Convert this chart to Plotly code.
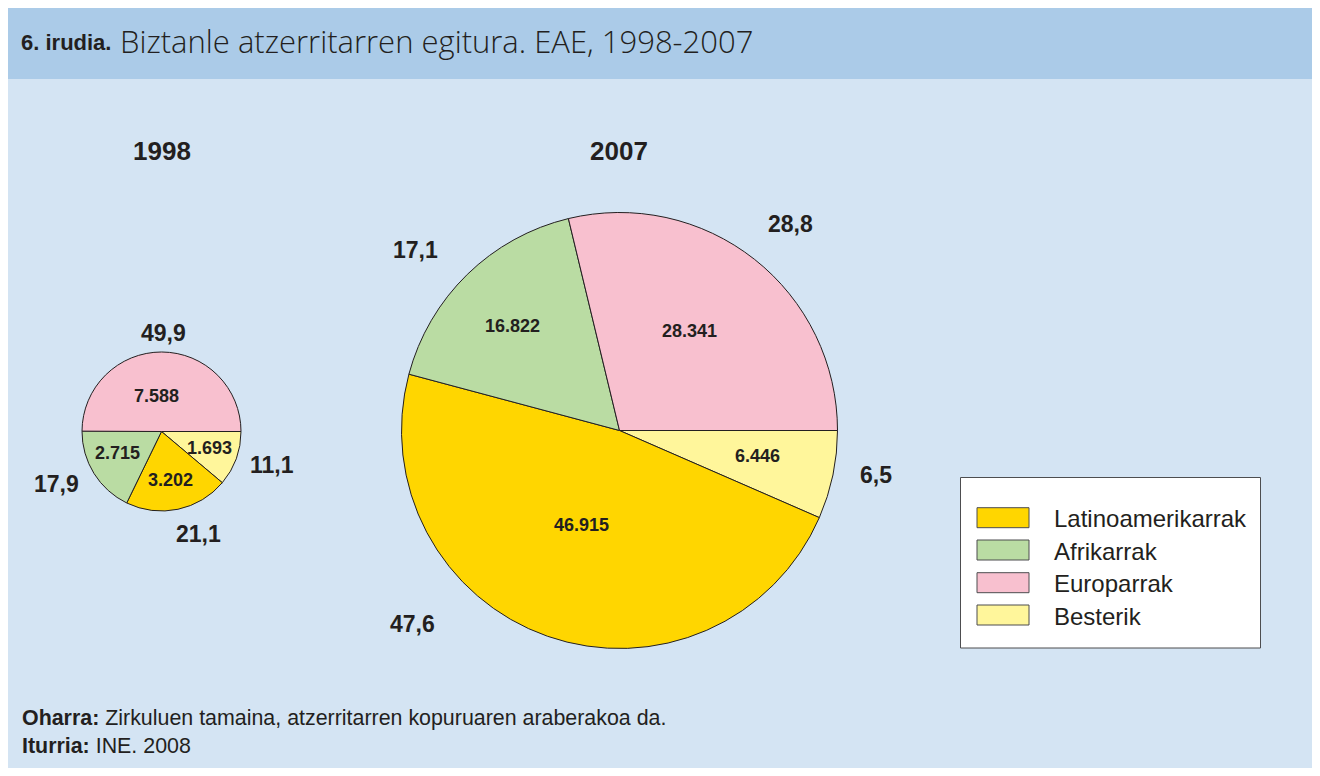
import plotly.graph_objects as go

# ---------------- data ----------------
categories = ["Latinoamerikarrak", "Afrikarrak", "Europarrak", "Besterik"]
values_1998 = [3202, 2715, 7588, 1693]
values_2007 = [46915, 16822, 28341, 6446]
pct_1998 = ["21,1", "17,9", "49,9", "11,1"]
pct_2007 = ["47,6", "17,1", "28,8", "6,5"]
years = ["1998", "2007"]

# ---------------- styles / layout ----------------
# the page body has an 8px margin, so the figure is sized to fit the viewport
OFF = 8
W, H = 1320 - 2 * OFF, 776 - 2 * OFF
colors = ["#ffd600", "#badca3", "#f8c0cf", "#fff69b"]
slice_order = [3, 0, 1, 2]  # clockwise from 3 o'clock: Other, Latin America, Africa, Europe
TXT = "#231f20"
BODY = "#d4e4f3"
HEAD = "#abcbe8"

# pie geometry in reference pixels: (cx, cy, r)
pie_geom = [(161.5, 431.5, 79.5), (619.5, 430.5, 218)]
# label pixel centres (same order as categories)
inside_pos = [
    [(170, 479), (117.5, 451.7), (156.7, 394.7), (209, 446.7)],
    [(581.3, 524.2), (512.7, 324.5), (689, 330), (757.5, 454.7)],
]
outside_pos = [
    [(199, 532.7), (56.7, 482.8), (163, 332), (272, 464)],
    [(412.5, 622.8), (415.3, 248.7), (790.3, 223), (876, 474)],
]
year_pos = [(161.7, 149.5), (619, 150.5)]


def px(x):
    return (x - OFF) / W


def py(y):
    return 1 - (y - OFF) / H


def fmt(v):
    return f"{v:,}".replace(",", ".")


fig = go.Figure()
annotations = []
shapes = []

for i, vals in enumerate([values_1998, values_2007]):
    cx, cy, r = pie_geom[i]
    fig.add_trace(go.Pie(
        labels=[categories[k] for k in slice_order],
        values=[vals[k] for k in slice_order],
        marker=dict(colors=[colors[k] for k in slice_order],
                    line=dict(color=TXT, width=1)),
        sort=False,
        direction="clockwise",
        rotation=90,
        textinfo="none",
        hoverinfo="label+value+percent",
        showlegend=False,
        domain=dict(x=[px(cx - r), px(cx + r)], y=[py(cy + r), py(cy - r)]),
    ))
    pcts = [pct_1998, pct_2007][i]
    for k in range(len(categories)):
        x, y = inside_pos[i][k]
        annotations.append(dict(x=px(x), y=py(y + 1), xref="paper", yref="paper",
                                text=f"<b>{fmt(vals[k])}</b>", showarrow=False,
                                xanchor="center", yanchor="middle",
                                font=dict(family="Liberation Sans, Arial", size=18, color=TXT)))
        x, y = outside_pos[i][k]
        annotations.append(dict(x=px(x), y=py(y + 1), xref="paper", yref="paper",
                                text=f"<b>{pcts[k]}</b>", showarrow=False,
                                xanchor="center", yanchor="middle",
                                font=dict(family="Liberation Sans, Arial", size=23, color=TXT)))
    x, y = year_pos[i]
    annotations.append(dict(x=px(x), y=py(y + 1), xref="paper", yref="paper",
                            text=f"<b>{years[i]}</b>", showarrow=False,
                            xanchor="center", yanchor="middle",
                            font=dict(family="Liberation Sans, Arial", size=26, color=TXT)))

# background panels
shapes.append(dict(type="rect", xref="paper", yref="paper", layer="below",
                   x0=0, x1=1, y0=0, y1=py(79), fillcolor=BODY, line=dict(width=0)))
shapes.append(dict(type="rect", xref="paper", yref="paper", layer="below",
                   x0=0, x1=1, y0=py(79), y1=1, fillcolor=HEAD, line=dict(width=0)))

# header title
annotations.append(dict(x=px(19), y=py(42), xref="paper", yref="paper",
                        text="<b>6. irudia.</b>", showarrow=False,
                        xanchor="left", yanchor="middle",
                        font=dict(family="Liberation Sans, Arial", size=22, color=TXT)))
annotations.append(dict(x=px(118), y=py(41), xref="paper", yref="paper",
                        text="Biztanle atzerritarren egitura. EAE, 1998-2007", showarrow=False,
                        xanchor="left", yanchor="middle",
                        font=dict(family="Open Sans, Roboto, Liberation Sans", size=31, weight=300,
                                  color=TXT)))

# legend (manual, wide swatches)
shapes.append(dict(type="rect", xref="paper", yref="paper",
                   x0=px(960.5), x1=px(1260.5), y0=py(648), y1=py(477.5),
                   fillcolor="white", line=dict(color="#4d4d4f", width=1)))
legend_rows = [517.7, 550, 582.7, 615]
for k, name in enumerate(categories):
    yc = legend_rows[k]
    shapes.append(dict(type="rect", xref="paper", yref="paper",
                       x0=px(977), x1=px(1029), y0=py(yc + 10), y1=py(yc - 10),
                       fillcolor=colors[k], line=dict(color="#4d4d4f", width=1)))
    annotations.append(dict(x=px(1052), y=py(yc + 1), xref="paper", yref="paper",
                            text=name, showarrow=False, xanchor="left", yanchor="middle",
                            font=dict(family="Liberation Sans, Arial", size=24, color=TXT)))

# footnotes
annotations.append(dict(x=px(20), y=py(718), xref="paper", yref="paper",
                        text="<b>Oharra:</b> Zirkuluen tamaina, atzerritarren kopuruaren araberakoa da.",
                        showarrow=False, xanchor="left", yanchor="middle",
                        font=dict(family="Liberation Sans, Arial", size=21.4, color=TXT)))
annotations.append(dict(x=px(20), y=py(746), xref="paper", yref="paper",
                        text="<b>Iturria:</b> INE. 2008",
                        showarrow=False, xanchor="left", yanchor="middle",
                        font=dict(family="Liberation Sans, Arial", size=21.4, color=TXT)))

fig.update_layout(
    width=W, height=H,
    margin=dict(l=0, r=0, t=0, b=0),
    paper_bgcolor="white",
    plot_bgcolor="white",
    annotations=annotations,
    shapes=shapes,
    showlegend=False,
)

fig.write_html("out.html")
